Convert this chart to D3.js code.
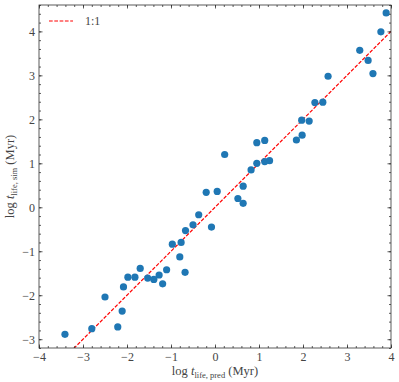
<!DOCTYPE html>
<html>
<head>
<meta charset="utf-8">
<script src="https://cdn.jsdelivr.net/npm/d3@7"></script>
<style>
  body { margin: 0; background: #fff; }
  svg text { font-family: "Liberation Serif", "DejaVu Serif", serif; }
</style>
</head>
<body>
<svg width="399" height="382"></svg>
<script>
// predicted vs simulated lifetimes (log Myr)
const xPred = [-3.41, -2.80, -2.21, -2.11, -2.50, -2.08, -1.98, -1.82, -1.70, -1.53,
  -1.39, -1.27, -1.19, -1.10, -0.68, -0.80, -0.97, -0.77, -0.67, -0.50,
  -0.37, -0.08, -0.20, 0.05, 0.22, 0.52, 0.64, 0.64, 0.82, 0.95,
  1.13, 1.24, 0.95, 1.13, 1.85, 1.98, 1.97, 2.14, 2.27, 2.45,
  2.57, 3.89, 3.77, 3.29, 3.48, 3.59];
const ySim = [-2.89, -2.76, -2.72, -2.36, -2.04, -1.81, -1.59, -1.59, -1.39, -1.61,
  -1.64, -1.54, -1.74, -1.42, -1.48, -1.13, -0.84, -0.80, -0.53, -0.40,
  -0.17, -0.45, 0.34, 0.36, 1.20, 0.20, 0.09, 0.48, 0.85, 1.00,
  1.04, 1.06, 1.47, 1.52, 1.53, 1.64, 1.98, 1.96, 2.38, 2.39,
  2.98, 4.42, 3.99, 3.57, 3.34, 3.04];
const xTicks = [-4, -3, -2, -1, 0, 1, 2, 3, 4];
const yTicks = [-3, -2, -1, 0, 1, 2, 3, 4];
const oneToOne = [-5, 5];

const width = 399, height = 382;
const margin = { top: 5, right: 8, bottom: 34, left: 39 };

const x = d3.scaleLinear().domain([-4, 4]).range([margin.left, width - margin.right]);
const y = d3.scaleLinear().domain([-3.2, 4.6]).range([height - margin.bottom, margin.top]);

const svg = d3.select("svg");
const fmt = d => d < 0 ? "\u2212" + Math.abs(d) : String(d);
const minorX = d3.range(-4, 4.001, 0.2).map(v => +v.toFixed(1));
const minorY = d3.range(-3.2, 4.601, 0.2).map(v => +v.toFixed(1));

svg.append("clipPath").attr("id", "plot")
  .append("rect")
  .attr("x", margin.left).attr("y", margin.top)
  .attr("width", width - margin.left - margin.right)
  .attr("height", height - margin.top - margin.bottom);

const plot = svg.append("g").attr("clip-path", "url(#plot)");

plot.append("line")
  .attr("x1", x(oneToOne[0])).attr("y1", y(oneToOne[0]))
  .attr("x2", x(oneToOne[1])).attr("y2", y(oneToOne[1]))
  .attr("stroke", "#ff0000")
  .attr("stroke-width", 1.2)
  .attr("stroke-dasharray", "3.7,1.6");

plot.selectAll("circle")
  .data(xPred.map((v, i) => [v, ySim[i]]))
  .join("circle")
  .attr("cx", d => x(d[0]))
  .attr("cy", d => y(d[1]))
  .attr("r", 3.6)
  .attr("fill", "#1f77b4");

// axes, ticks pointing in on all four sides
function styleAxis(g) {
  g.select(".domain").remove();
  g.selectAll("line").attr("stroke", "#333").attr("stroke-width", 0.8);
  g.selectAll("text").attr("fill", "#444").style("font-size", "12px");
}
const bottomY = height - margin.bottom, leftX = margin.left;
const topY = margin.top, rightX = width - margin.right;

svg.append("g").attr("transform", `translate(0,${bottomY})`)
  .call(d3.axisBottom(x).tickValues(minorX).tickSizeInner(-2).tickSizeOuter(0).tickFormat(""))
  .call(styleAxis);
svg.append("g").attr("transform", `translate(0,${bottomY})`)
  .call(d3.axisBottom(x).tickValues(xTicks).tickSizeInner(-3.5).tickSizeOuter(0).tickPadding(4).tickFormat(fmt))
  .call(styleAxis);
svg.append("g").attr("transform", `translate(0,${topY})`)
  .call(d3.axisTop(x).tickValues(minorX).tickSizeInner(-2).tickSizeOuter(0).tickFormat(""))
  .call(styleAxis);
svg.append("g").attr("transform", `translate(0,${topY})`)
  .call(d3.axisTop(x).tickValues(xTicks).tickSizeInner(-3.5).tickSizeOuter(0).tickFormat(""))
  .call(styleAxis);

svg.append("g").attr("transform", `translate(${leftX},0)`)
  .call(d3.axisLeft(y).tickValues(minorY).tickSizeInner(-2).tickSizeOuter(0).tickFormat(""))
  .call(styleAxis);
svg.append("g").attr("transform", `translate(${leftX},0)`)
  .call(d3.axisLeft(y).tickValues(yTicks).tickSizeInner(-3.5).tickSizeOuter(0).tickPadding(4).tickFormat(fmt))
  .call(styleAxis);
svg.append("g").attr("transform", `translate(${rightX},0)`)
  .call(d3.axisRight(y).tickValues(minorY).tickSizeInner(-2).tickSizeOuter(0).tickFormat(""))
  .call(styleAxis);
svg.append("g").attr("transform", `translate(${rightX},0)`)
  .call(d3.axisRight(y).tickValues(yTicks).tickSizeInner(-3.5).tickSizeOuter(0).tickFormat(""))
  .call(styleAxis);

svg.append("rect")
  .attr("x", leftX).attr("y", topY)
  .attr("width", rightX - leftX).attr("height", bottomY - topY)
  .attr("fill", "none").attr("stroke", "#333").attr("stroke-width", 0.8);

// axis labels
const xl = svg.append("text")
  .attr("x", (leftX + rightX) / 2).attr("y", 375)
  .attr("text-anchor", "middle").attr("fill", "#444").style("font-size", "12.5px");
xl.append("tspan").text("log ");
xl.append("tspan").attr("font-style", "italic").text("t");
xl.append("tspan").attr("dy", 2.5).style("font-size", "8.5px").text("life, pred");
xl.append("tspan").attr("dy", -2.5).text(" (Myr)");

const yl = svg.append("text")
  .attr("transform", `translate(14,${(topY + bottomY) / 2}) rotate(-90)`)
  .attr("text-anchor", "middle").attr("fill", "#444").style("font-size", "12.5px");
yl.append("tspan").text("log ");
yl.append("tspan").attr("font-style", "italic").text("t");
yl.append("tspan").attr("dy", 2.5).style("font-size", "8.5px").text("life, sim");
yl.append("tspan").attr("dy", -2.5).text(" (Myr)");

// legend
const lg = svg.append("g");
lg.append("line")
  .attr("x1", 49).attr("x2", 73).attr("y1", 21).attr("y2", 21)
  .attr("stroke", "#ff0000").attr("stroke-width", 1.2).attr("stroke-dasharray", "3.7,1.6");
lg.append("text").attr("x", 85).attr("y", 25)
  .attr("fill", "#444").style("font-size", "12px").text("1:1");
</script>
</body>
</html>
